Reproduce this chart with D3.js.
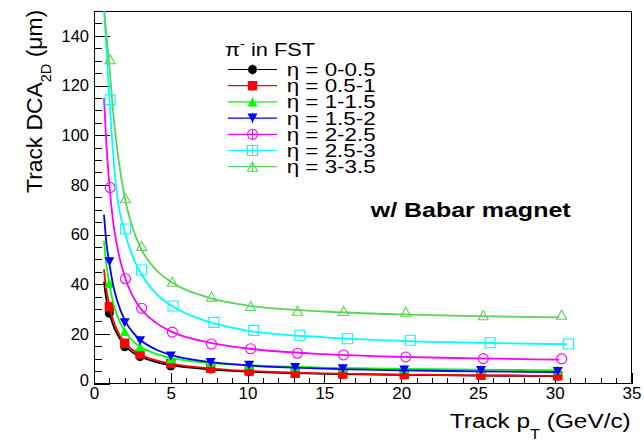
<!DOCTYPE html>
<html><head><meta charset="utf-8">
<script src="https://cdn.jsdelivr.net/npm/d3@7"></script>
<style>body{margin:0;background:#fff}svg{display:block}text{font-family:"Liberation Sans",Arial,Helvetica,sans-serif}</style>
</head><body><svg id="c" width="644" height="440"></svg>
<script>
// ---------- data ----------
const categories = ["η = 0-0.5","η = 0.5-1","η = 1-1.5","η = 1.5-2","η = 2-2.5","η = 2.5-3","η = 3-3.5"];
const legendTitle = "π";
const xTicks = [0,5,10,15,20,25,30,35];
const yTicks = [0,20,40,60,80,100,120,140];

// pT of the measured points (GeV/c)
const ptA = [1, 2, 3, 5, 7.6, 10.1, 13.1, 16.2, 20.2, 25.2, 30.2];
const ptB = [1.05, 2.05, 3.1, 5.1, 7.65, 10.2, 13.25, 16.25, 20.3, 25.35, 30.45];
const ptC = [1.05, 2.05, 3.1, 5.15, 7.8, 10.4, 13.4, 16.5, 20.6, 25.8, 30.9];

// DCA_2D (um)
const dcaEta0 = [28.3, 14.8, 10.8, 7.0, 5.8, 4.8, 4.0, 3.7, 3.5, 3.2, 3.0];
const dcaEta1 = [30.9, 16.2, 11.9, 8.0, 6.1, 5.0, 4.1, 3.8, 3.6, 3.3, 3.1];
const dcaEta2 = [40.4, 20.9, 14.8, 10.0, 8.6, 7.6, 6.7, 6.3, 5.9, 5.6, 5.4];
const dcaEta3 = [49.0, 24.5, 17.2, 11.1, 8.5, 7.3, 6.4, 5.9, 5.4, 5.2, 4.8];
const dcaEta4 = [78.9, 42.2, 30.3, 20.7, 15.9, 14.0, 12.2, 11.5, 10.7, 10.0, 9.9];
const dcaEta5 = [114.2, 62.2, 45.7, 31.2, 24.6, 21.4, 19.4, 18.0, 17.4, 16.4, 15.9];
const dcaEta6 = [130.6, 74.6, 55.4, 41.0, 35.0, 31.2, 29.3, 29.2, 28.9, 27.5, 27.7];

// fitted curves
const fitX  = [0.65, 0.8, 1, 1.25, 1.5, 2, 2.5, 3, 4, 5, 7.5, 10, 15, 20, 25, 30.3];
const fitXc = [0.65, 0.8, 1, 1.25, 1.5, 2, 2.5, 3, 4, 5, 7.5, 10, 15, 20, 25, 30.8];
const fitEta0 = [41, 34, 28.5, 23.5, 20, 15.3, 12.6, 10.9, 8.7, 7.4, 5.7, 4.8, 3.9, 3.5, 3.2, 3.0];
const fitEta1 = [46, 38, 31.5, 25.5, 21.5, 16.5, 13.6, 11.7, 9.4, 8.0, 6.1, 5.1, 4.1, 3.6, 3.3, 3.1];
const fitEta2 = [57.5, 48, 40, 32.5, 27.5, 21, 17.3, 14.9, 12, 10.3, 8.3, 7.4, 6.4, 5.9, 5.6, 5.3];
const fitEta3 = [68, 57, 48.5, 39.5, 33.5, 25.5, 20.8, 17.6, 13.8, 11.5, 8.7, 7.3, 6.0, 5.3, 4.9, 4.6];
const fitEta4 = [115, 97, 80, 65, 55.5, 43, 35.5, 30.5, 24.6, 21.0, 16.5, 14.1, 11.8, 10.7, 10.1, 9.6];
const fitEta5 = [152, 135, 115, 92, 76, 61, 51.5, 45, 36.5, 31.5, 24.8, 21.3, 18.6, 17.2, 16.4, 15.8];
const fitEta6 = [151, 141, 128, 109, 95, 75, 63, 55, 46, 41, 34.5, 31.4, 29, 27.8, 27.1, 26.6];

// ---------- styles ----------
const colors = ["#000000","#ff0000","#00ff00","#0000ff","#ff00ff","#00ffff","#59d454"];
const shapes = ["circle","square","triUp","triDown","circle","square","triUp"];
const filled = [true,true,true,true,false,false,false];

const series = categories.map((name,i)=>({
  name,
  px: [ptA,ptA,ptA,ptA,ptB,ptC,ptB][i],
  py: [dcaEta0,dcaEta1,dcaEta2,dcaEta3,dcaEta4,dcaEta5,dcaEta6][i],
  fx: i===5 ? fitXc : fitX,
  fy: [fitEta0,fitEta1,fitEta2,fitEta3,fitEta4,fitEta5,fitEta6][i],
  color: colors[i], shape: shapes[i], filled: filled[i]
}));

// ---------- drawing ----------
const FONT = '"Liberation Sans",Arial,Helvetica,sans-serif';
const svg = d3.select('#c');
svg.append('rect').attr('width',644).attr('height',440).attr('fill','#fff');

const x = d3.scaleLinear().domain([0,35]).range([94,631.5]);
const y = d3.scaleLinear().domain([0,150]).range([383.5,11]);

svg.append('defs').append('clipPath').attr('id','clip')
  .append('rect').attr('x',x(0)).attr('y',y(150)).attr('width',x(35)-x(0)).attr('height',y(0)-y(150));

// axes
const xMinor = d3.range(0,36,1).filter(v=>v%5!==0);
const yMinor = d3.range(0,151,5).filter(v=>v%20!==0);

const gx = svg.append('g').attr('transform',`translate(0,${y(0)})`)
  .call(d3.axisBottom(x).tickValues(xTicks).tickSize(-11).tickSizeOuter(0).tickPadding(3).tickFormat(d3.format('d')));
gx.attr('font-size',17).attr('font-family',FONT);
gx.select('.domain').remove();
const gxm = svg.append('g').attr('transform',`translate(0,${y(0)})`)
  .call(d3.axisBottom(x).tickValues(xMinor).tickSize(-5.5).tickFormat(''));
gxm.select('.domain').remove();

const gy = svg.append('g').attr('transform',`translate(${x(0)},0)`)
  .call(d3.axisLeft(y).tickValues(yTicks).tickSize(-16).tickSizeOuter(0).tickPadding(5).tickFormat(d3.format('d')));
gy.attr('font-size',16.5).attr('font-family',FONT);
gy.select('.domain').remove();
gy.selectAll('.tick').filter(d=>d===0).select('text').attr('dy','0.1em');
const gym = svg.append('g').attr('transform',`translate(${x(0)},0)`)
  .call(d3.axisLeft(y).tickValues(yMinor).tickSize(-8).tickFormat(''));
gym.select('.domain').remove();
svg.selectAll('.tick line').attr('stroke','#000').attr('shape-rendering','crispEdges');
svg.selectAll('.tick text').attr('fill','#000');

// frame
svg.append('rect').attr('x',x(0)).attr('y',y(150)).attr('width',x(35)-x(0)).attr('height',y(0)-y(150))
  .attr('fill','none').attr('stroke','#000').attr('stroke-width',1).attr('shape-rendering','crispEdges');

// marker path
function markerPath(shape){
  if(shape==='circle') return 'M-5,0A5,5 0 1,0 5,0A5,5 0 1,0 -5,0Z';
  if(shape==='square') return 'M-5,-5H5V5H-5Z';
  if(shape==='triUp') return 'M0,-4.5L5,4.5H-5Z';
  if(shape==='triDown') return 'M0,4.5L5,-4.5H-5Z';
}
function markerPathSmall(shape){
  if(shape==='circle') return 'M-4.5,0A4.5,4.5 0 1,0 4.5,0A4.5,4.5 0 1,0 -4.5,0Z';
  if(shape==='square') return 'M-4.7,-4.7H4.7V4.7H-4.7Z';
  return markerPath(shape);
}
function drawMarker(g, s, cx, cy){
  const p = g.append('path').attr('transform',`translate(${cx},${cy})`)
    .attr('d', s.filled ? markerPathSmall(s.shape) : markerPath(s.shape));
  if(s.filled) p.attr('fill',s.color).attr('stroke','none');
  else p.attr('fill','none').attr('stroke',s.color).attr('stroke-width',1.1);
}

const line = d3.line().x(d=>x(d[0])).y(d=>y(d[1])).curve(d3.curveMonotoneX);
const plot = svg.append('g').attr('clip-path','url(#clip)');
series.forEach(s=>{
  const g = plot.append('g');
  s.px.forEach((px,j)=>drawMarker(g, s, x(px), y(s.py[j])));
  g.append('path').datum(s.fx.map((fx,j)=>[fx,s.fy[j]]))
    .attr('d',line).attr('fill','none').attr('stroke',s.color).attr('stroke-width',1.8);
});

// helper to stretch text to measured width
function place(t, x0, y0, width, rot){
  const w = t.node().getComputedTextLength();
  const sc = width / w;
  t.attr('transform', `translate(${x0},${y0})${rot?' rotate(-90)':''} scale(${sc},1)`);
}

// legend
const lg = svg.append('g');
const lt = lg.append('text').attr('font-size',18).attr('fill','#000');
lt.append('tspan').text(legendTitle);
lt.append('tspan').attr('font-size',12).attr('dy',-8).text('-');
lt.append('tspan').attr('dy',8).text(' in FST');
place(lt, 225, 56, 90);

const rowY0 = 69.5, rowDY = 16.2;
series.forEach((s,i)=>{
  const cy = rowY0 + i*rowDY;
  lg.append('line').attr('x1',228).attr('x2',277).attr('y1',cy).attr('y2',cy)
    .attr('stroke',s.color).attr('stroke-width',1.2);
  lg.append('line').attr('x1',252.5).attr('x2',252.5).attr('y1',cy-5).attr('y2',cy+5)
    .attr('stroke',s.color).attr('stroke-width',1);
  drawMarker(lg, s, 252.5, cy);
  const t = lg.append('text').attr('font-size',17.5).attr('fill','#000').text(s.name);
  place(t, 286.7, cy+6.5, 89);
});

// annotation
const ann = svg.append('text').attr('font-size',20).attr('font-weight','bold').attr('fill','#000').text('w/ Babar magnet');
place(ann, 370.7, 216.7, 200);

// axis titles
const xt = svg.append('text').attr('font-size',21).attr('fill','#000').attr('text-anchor','end');
xt.append('tspan').text('Track p');
xt.append('tspan').attr('font-size',14).attr('dy',11).text('T');
xt.append('tspan').attr('dy',-11).text(' (GeV/c)');
place(xt, 630.7, 427.7, 181);

const yt = svg.append('text').attr('font-size',22).attr('fill','#000').attr('text-anchor','end');
yt.append('tspan').text('Track DCA');
yt.append('tspan').attr('font-size',14).attr('dy',9).text('2D');
yt.append('tspan').attr('dy',-9).text(' (μm)');
place(yt, 42, 10, 183, true);
</script></body></html>
